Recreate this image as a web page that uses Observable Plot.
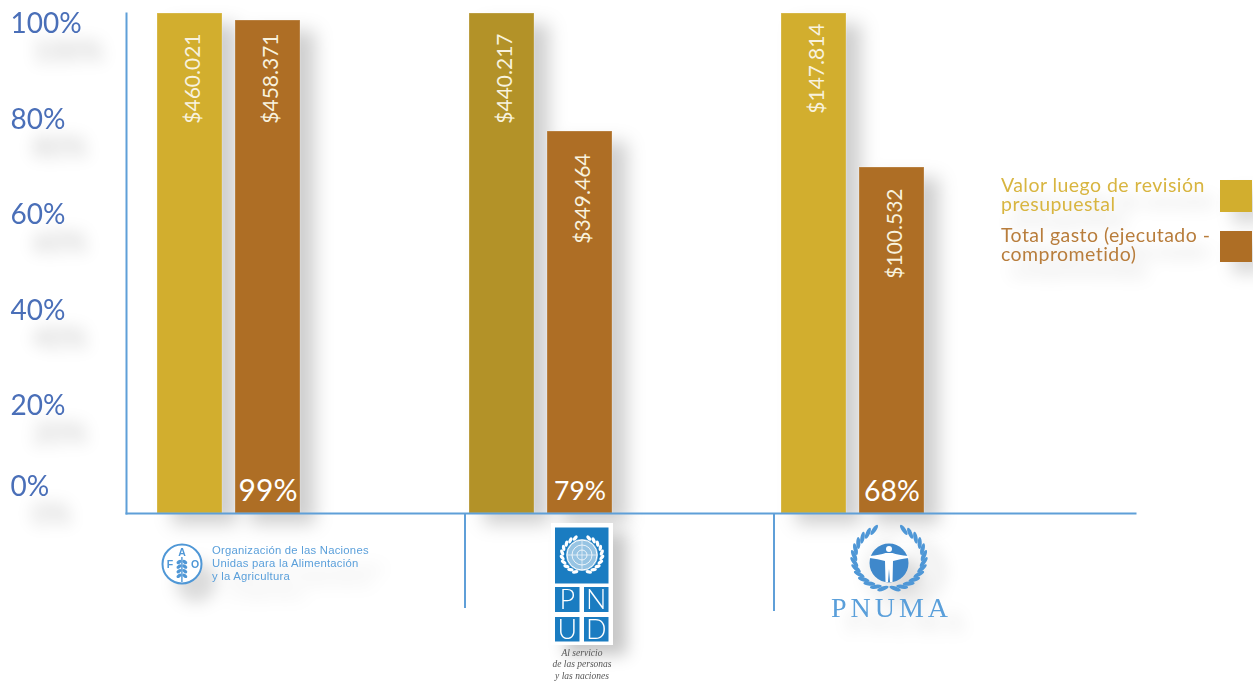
<!DOCTYPE html>
<html lang="es">
<head>
<meta charset="utf-8">
<script src="https://cdn.jsdelivr.net/npm/d3@7"></script>
<script src="https://cdn.jsdelivr.net/npm/@observablehq/plot@0.6"></script>
<style>
  html, body { margin: 0; padding: 0; background: #fff; overflow: hidden; }
  #page { position: relative; width: 1253px; height: 684px; font-family: Lato, sans-serif; }
  #page > svg { position: absolute; left: 0; top: 0; }
  .legend { position: absolute; left: 1001px; font-size: 19.5px; line-height: 19px; letter-spacing: .45px; filter: drop-shadow(10px 16px 8px rgba(0,0,0,.16)); }
  .swatch { position: absolute; left: 1220px; width: 32px; filter: drop-shadow(12px 12px 8px rgba(0,0,0,.14)); }
</style>
</head>
<body>
<div id="page"></div>
<script>
const agencies = ["FAO", "PNUD", "PNUMA"];
const budgetPct = [100, 100, 100];
const spentPct = [98.6, 76.4, 69.2];
const budgetLabels = ["$460.021", "$440.217", "$147.814"];
const spentLabels = ["$458.371", "$349.464", "$100.532"];
const executionLabels = ["99%", "79%", "68%"];
const budgetLabelAt = [96, 96, 98];
const spentLabelAt = [96, 72, 65];
const executionLabelAt = 4.4;
const tickLabels = ["0%", "20%", "40%", "60%", "80%", "100%"];
const tickLabelAt = [5.2, 21.4, 40.4, 59.6, 78.6, 97.8];
const separators = [{agency: "FAO", reach: -19, dx: 41}, {agency: "PNUD", reach: -19.6, dx: 38}];
const legendEntries = ["Valor luego de revisión<br>presupuestal", "Total gasto (ejecutado -<br>comprometido)"];

const slots = agencies.flatMap(a => [a + "|budget", a + "|spent", a + "|gap1", a + "|gap2"]);
const gold = "#d2ae2e", goldDark = "#b39228", brown = "#ae6e25", line = "#5f9fd8";

const bars = agencies.flatMap((a, i) => [
  {slot: a + "|budget", pct: budgetPct[i], label: budgetLabels[i], at: budgetLabelAt[i], fill: a === "PNUD" ? goldDark : gold},
  {slot: a + "|spent", pct: spentPct[i], label: spentLabels[i], at: spentLabelAt[i], fill: brown}
]);
const execution = agencies.map((a, i) => ({slot: a + "|spent", label: executionLabels[i], size: {FAO: 30, PNUD: 26.5, PNUMA: 28.5}[a]}));
const ticks = tickLabels.map((label, i) => ({label, at: tickLabelAt[i]}));

const shadow = css => (index, scales, values, dims, ctx, next) => {
  const g = next(index, scales, values, dims, ctx);
  g.style.filter = css;
  return g;
};

const chart = Plot.plot({
  width: 1253, height: 684,
  marginLeft: 126, marginRight: 118, marginTop: 13, marginBottom: 171,
  style: {background: "transparent", overflow: "visible"},
  x: {type: "band", domain: slots, range: [150.5, 1086.5], paddingInner: 1 / 6, paddingOuter: 1 / 12, axis: null},
  y: {domain: [0, 100], axis: null},
  marks: [
    Plot.barY(bars, {x: "slot", y: "pct", fill: "fill", stroke: "#fff", strokeOpacity: .25, strokeWidth: 1,
      render: shadow("drop-shadow(15px 11px 9px rgba(0,0,0,.19))")}),
    Plot.frame({anchor: "left", stroke: line, strokeWidth: 2, strokeOpacity: 1}),
    Plot.frame({anchor: "bottom", stroke: line, strokeWidth: 2, strokeOpacity: 1}),
    Plot.ruleX(separators, {x: d => d.agency + "|gap2", y1: 0, y2: "reach", stroke: line, strokeWidth: 2,
      render: (index, scales, values, dims, ctx, next) => {
        const g = next(index, scales, values, dims, ctx);
        d3.select(g).selectAll("line").attr("transform", (i) => `translate(${separators[i].dx},0)`);
        return g;
      }}),
    Plot.text(ticks, {text: "label", y: "at", frameAnchor: "left", textAnchor: "start", dx: -116,
      fontSize: 28, fontFamily: "Lato, sans-serif", fill: "#4a6fb8",
      render: shadow("drop-shadow(22px 28px 8px rgba(0,0,0,.24))")}),
    Plot.text(bars, {x: "slot", y: "at", text: "label", rotate: -90, textAnchor: "end", dx: 3,
      fontSize: 21, fontWeight: 400, fontFamily: "Lato, sans-serif", fill: "#f8f2de"}),
    Plot.text(execution, {x: "slot", y: () => executionLabelAt, text: "label",
      fontSize: "size", fontFamily: "Lato, sans-serif", fill: "#fff"})
  ]
});

const page = document.getElementById("page");
page.append(chart);

/* legend */
const legendColors = [gold, brown], legendText = ["#d8b540", "#b87d3c"];
legendEntries.forEach((html, i) => {
  const t = document.createElement("div");
  t.className = "legend";
  t.style.top = (i === 0 ? 175 : 225) + "px";
  t.style.color = legendText[i];
  t.innerHTML = html;
  page.append(t);
  const s = document.createElement("div");
  s.className = "swatch";
  s.style.cssText = `top:${i === 0 ? 180 : 231}px;height:${i === 0 ? 32 : 31}px;background:${legendColors[i]}`;
  page.append(s);
});

/* logos: simplified redrawings, not part of the data */
const NS = "http://www.w3.org/2000/svg";
const logoBlue = "#4f97d6", undpBlue = "#1a7cc1";
function leafRing(cx, cy, rx, ry, from, to, n, len, wid, color) {
  let out = "";
  for (let k = 0; k < n; k++) {
    const a = (from + (to - from) * k / (n - 1)) * Math.PI / 180;
    const x = cx + rx * Math.cos(a), y = cy + ry * Math.sin(a);
    const deg = a * 180 / Math.PI + (from < to ? 60 : -60);
    out += `<ellipse cx="${x}" cy="${y}" rx="${len}" ry="${wid}" fill="${color}" transform="rotate(${deg} ${x} ${y})"/>`;
  }
  return out;
}
const logos = document.createElementNS(NS, "svg");
logos.setAttribute("width", 1253);
logos.setAttribute("height", 684);
logos.style.pointerEvents = "none";
let wheat = "";
for (let k = 0; k < 4; k++) {
  const y = 562 + k * 4.6;
  wheat += `<ellipse cx="179" cy="${y}" rx="2.8" ry="1.7" fill="${logoBlue}" transform="rotate(-35 179 ${y})"/>`;
  wheat += `<ellipse cx="184.8" cy="${y}" rx="2.8" ry="1.7" fill="${logoBlue}" transform="rotate(35 184.8 ${y})"/>`;
}
logos.innerHTML = `
<g style="filter:drop-shadow(14px 18px 8px rgba(0,0,0,.14))">
  <circle cx="182" cy="564" r="19.5" fill="#fff" stroke="${logoBlue}" stroke-width="2"/>
  <g font-family="Liberation Sans" font-weight="700" font-size="10.5" fill="${logoBlue}" text-anchor="middle">
    <text x="182" y="556">A</text><text x="170" y="568">F</text><text x="195" y="568">O</text>
  </g>
  <line x1="181.9" y1="557" x2="181.9" y2="582" stroke="${logoBlue}" stroke-width="1.4"/>
  ${wheat}
  <g font-family="Liberation Sans" font-size="11.3" letter-spacing=".24" fill="#5a9fda">
    <text x="212" y="554">Organización de las Naciones</text>
    <text x="212" y="567">Unidas para la Alimentación</text>
    <text x="212" y="580">y la Agricultura</text>
  </g>
</g>
<g>
  <rect x="551" y="523" width="62" height="122" fill="#fff" style="filter:drop-shadow(14px 10px 8px rgba(0,0,0,.22))"/>
  <rect x="555" y="527.5" width="53.5" height="56" fill="${undpBlue}"/>
  <rect x="555" y="587" width="24.5" height="25" fill="${undpBlue}"/>
  <rect x="584" y="587" width="24.5" height="25" fill="${undpBlue}"/>
  <rect x="555" y="617" width="24.5" height="24.5" fill="${undpBlue}"/>
  <rect x="584" y="617" width="24.5" height="24.5" fill="${undpBlue}"/>
  <circle cx="582" cy="555" r="16" fill="#fff" fill-opacity=".55"/>
  <g fill="none" stroke="#fff">
    <circle cx="582" cy="555" r="15" stroke-width="1"/>
    <circle cx="582" cy="555" r="10" stroke-width=".8"/>
    <circle cx="582" cy="555" r="5" stroke-width=".8"/>
    <line x1="567" y1="555" x2="597" y2="555" stroke-width=".6"/>
    <line x1="582" y1="540" x2="582" y2="570" stroke-width=".6"/>
  </g>
  ${leafRing(582, 555, 20, 18, 110, 250, 10, 3.2, 1.7, "#fff")}
  ${leafRing(582, 555, 20, 18, 70, -70, 10, 3.2, 1.7, "#fff")}
  <g font-family="Lato" font-weight="300" font-size="27" fill="#fff" text-anchor="middle">
    <text x="567.3" y="609">P</text><text x="596.3" y="609">N</text>
    <text x="567.3" y="639">U</text><text x="596.3" y="639">D</text>
  </g>
  <g font-family="Liberation Serif" font-style="italic" font-size="9.5" fill="#555" text-anchor="middle">
    <text x="582" y="656">Al servicio</text>
    <text x="582" y="667">de las personas</text>
    <text x="582" y="679">y las naciones</text>
  </g>
</g>
<g style="filter:drop-shadow(16px 14px 8px rgba(0,0,0,.14))">
  ${leafRing(889, 558, 35, 31, 100, 245, 13, 6, 2.1, logoBlue)}
  ${leafRing(889, 558, 35, 31, 80, -65, 13, 6, 2.1, logoBlue)}
  <circle cx="889" cy="563" r="19.5" fill="#3f88cb"/>
  <circle cx="889" cy="549" r="3" fill="#fff"/>
  <path d="M869.5 556 Q880 555 885.5 553 L892.5 553 Q898 555 908.5 556 L908.5 558 Q900 559 893 561 L892.5 582 L890 582 L889 569 L888 582 L885.5 582 L885 561 Q878 559 869.5 558 Z" fill="#fff"/>
  <text x="831" y="617" font-family="Liberation Serif" font-size="28" fill="#5a9fda" textLength="117">PNUMA</text>
</g>`;
page.append(logos);
</script>
</body>
</html>
